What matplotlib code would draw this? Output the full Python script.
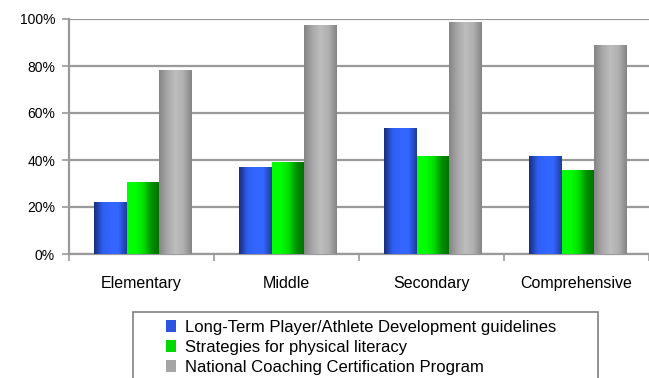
import numpy as np
import matplotlib
matplotlib.use("Agg")
import matplotlib.pyplot as plt
from matplotlib.colors import LinearSegmentedColormap
from matplotlib.patches import Rectangle

plt.rcParams['font.family'] = ['Liberation Sans', 'DejaVu Sans']

categories = ['Elementary', 'Middle', 'Secondary', 'Comprehensive']
ltad = [22.1, 36.6, 53.2, 41.3]
literacy = [30.6, 39.1, 41.3, 35.7]
nccp = [77.9, 97.4, 98.3, 88.9]
series_names = ['Long-Term Player/Athlete Development guidelines',
                'Strategies for physical literacy',
                'National Coaching Certification Program']

# horizontal gradients for the bars (left -> right)
grad_blue = LinearSegmentedColormap.from_list('b', ['#1a2e78', '#2e5ef0', '#3366ff', '#3366ff', '#1f3c9c'])
grad_green = LinearSegmentedColormap.from_list('g', ['#00ff00', '#00ff00', '#00e000', '#009000', '#007000'])
grad_grey = LinearSegmentedColormap.from_list('k', ['#858585', '#a8a8a8', '#bdbdbd', '#b0b0b0', '#858585'])
flat_colors = ['#2b55e0', '#00d800', '#a5a5a5']

fig = plt.figure(figsize=(6.49, 3.78), dpi=100)
ax = fig.add_axes([69/649, (378-254)/378, 1 - 69/649, (254-19)/378])

x = np.arange(len(categories))
w = 0.225
grad = np.linspace(0, 1, 64).reshape(1, -1)
for i, (vals, cmap) in enumerate(zip([ltad, literacy, nccp], [grad_blue, grad_green, grad_grey])):
    bars = ax.bar(x + (i - 1) * w + 0.01, vals, width=w, color=flat_colors[i],
                  label=series_names[i], zorder=3)
    for b in bars:
        x0, bw, h = b.get_x(), b.get_width(), b.get_height()
        ax.imshow(grad, cmap=cmap, aspect='auto', extent=(x0, x0 + bw, 0, h),
                  zorder=4, interpolation='bilinear')

ax.set_xlim(-0.5, len(categories) - 0.5)
ax.set_ylim(0, 100)
ax.set_yticks(np.arange(0, 101, 20))
ax.set_yticklabels([f'{v}%' for v in range(0, 101, 20)])
ax.grid(axis='y', color='#9a9a9a', linewidth=1.6, zorder=0)
ax.set_axisbelow(True)

ax.set_xticks(x)
ax.set_xticklabels(categories)
ax.set_xticks(np.arange(-0.5, len(categories), 1), minor=True)
ax.tick_params(axis='x', which='major', length=0, pad=16, labelsize=11.5)
ax.tick_params(axis='x', which='minor', length=5, color='#9a9a9a', width=1.2, direction='out')
ax.tick_params(axis='y', length=5, color='#9a9a9a', width=1.2, labelsize=10, pad=5)

for s in ['top', 'right']:
    ax.spines[s].set_visible(False)
ax.spines['left'].set_color('#9a9a9a')
ax.spines['left'].set_linewidth(1.6)
ax.spines['bottom'].set_color('#9a9a9a')
ax.spines['bottom'].set_linewidth(1.6)

# legend box (cut off at the bottom like the original)
fig.patches.append(Rectangle((133/649, -0.1), (598-133)/649, (378-312)/378 + 0.1,
                             transform=fig.transFigure, fill=False,
                             edgecolor='#808080', linewidth=1.2))
fig.legend(loc='upper left', bbox_to_anchor=(166/649, (378-320)/378), frameon=False,
           fontsize=12, handlelength=0.6, handleheight=0.75, handletextpad=0.55,
           labelspacing=0.3, borderpad=0, borderaxespad=0)

fig.savefig('out.png', dpi=100)
